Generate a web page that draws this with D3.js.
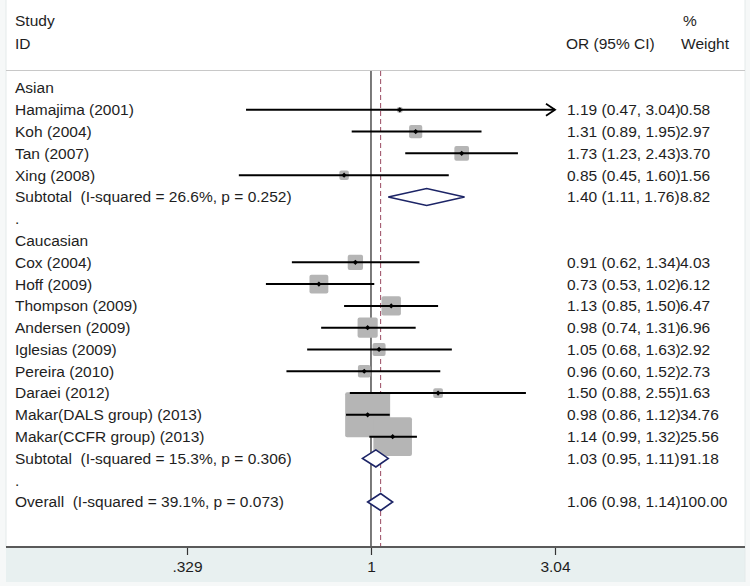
<!DOCTYPE html>
<html><head><meta charset="utf-8">
<script src="https://cdn.jsdelivr.net/npm/d3@7"></script>
<style>body{margin:0;background:#f6f8f8;}svg{display:block;}text{font-family:"Liberation Sans",Arial,sans-serif;fill:#1e1e1e;white-space:pre;}</style>
</head><body><svg id="c" width="750" height="586"></svg>
<script>
// ---- data ----
const labels = ["Asian","Hamajima (2001)","Koh (2004)","Tan (2007)","Xing (2008)",
  "Subtotal  (I-squared = 26.6%, p = 0.252)",".","Caucasian","Cox (2004)","Hoff (2009)",
  "Thompson (2009)","Andersen (2009)","Iglesias (2009)","Pereira (2010)","Daraei (2012)",
  "Makar(DALS group) (2013)","Makar(CCFR group) (2013)","Subtotal  (I-squared = 15.3%, p = 0.306)",
  ".","Overall  (I-squared = 39.1%, p = 0.073)"];
const kinds = ["group","study","study","study","study","sub","blank","group","study","study",
  "study","study","study","study","study","study","study","sub","blank","sub"];
const orVals = [null,1.19,1.31,1.73,0.85,1.40,null,null,0.91,0.73,1.13,0.98,1.05,0.96,1.50,0.98,1.14,1.03,null,1.06];
const lower  = [null,0.47,0.89,1.23,0.45,1.11,null,null,0.62,0.53,0.85,0.74,0.68,0.60,0.88,0.86,0.99,0.95,null,0.98];
const upper  = [null,3.04,1.95,2.43,1.60,1.76,null,null,1.34,1.02,1.50,1.31,1.63,1.52,2.55,1.12,1.32,1.11,null,1.14];
const weights= [null,0.58,2.97,3.70,1.56,8.82,null,null,4.03,6.12,6.47,6.96,2.92,2.73,1.63,34.76,25.56,91.18,null,100.00];
const orText = [null,"1.19 (0.47, 3.04)","1.31 (0.89, 1.95)","1.73 (1.23, 2.43)","0.85 (0.45, 1.60)","1.40 (1.11, 1.76)",null,null,
  "0.91 (0.62, 1.34)","0.73 (0.53, 1.02)","1.13 (0.85, 1.50)","0.98 (0.74, 1.31)","1.05 (0.68, 1.63)","0.96 (0.60, 1.52)",
  "1.50 (0.88, 2.55)","0.98 (0.86, 1.12)","1.14 (0.99, 1.32)","1.03 (0.95, 1.11)",null,"1.06 (0.98, 1.14)"];
const wText = [null,"0.58","2.97","3.70","1.56","8.82",null,null,"4.03","6.12","6.47","6.96","2.92","2.73","1.63","34.76","25.56","91.18",null,"100.00"];
const tickVals = [0.329, 1, 3.04];
const tickLabels = [".329","1","3.04"];
const overallOR = 1.06;

const rows = labels.map((l,i)=>({i,label:l,kind:kinds[i],or:orVals[i],lo:lower[i],hi:upper[i],w:weights[i],ort:orText[i],wt:wText[i]}));

const svg = d3.select("#c");
const x = d3.scaleLog().domain([0.329, 3.04]).range([187, 555]);
const y = d3.scaleLinear().domain([0, 19]).range([88, 502]);
const FS = "15.5px";

// backgrounds
svg.append("rect").attr("x",6).attr("y",0).attr("width",739).attr("height",547).attr("fill","#fff");
svg.append("rect").attr("x",6).attr("y",547).attr("width",739).attr("height",35).attr("fill","#e8f0f0");
svg.append("line").attr("x1",6).attr("x2",6).attr("y1",0).attr("y2",547).attr("stroke","#e4eaea");
svg.append("line").attr("x1",745).attr("x2",745).attr("y1",0).attr("y2",582).attr("stroke","#e4eaea");

// header
svg.append("text").attr("x",15).attr("y",21).attr("dy","0.35em").style("font-size",FS).text("Study");
svg.append("text").attr("x",15).attr("y",44).attr("dy","0.35em").style("font-size",FS).text("ID");
svg.append("text").attr("x",566).attr("y",44).attr("dy","0.35em").style("font-size",FS).text("OR (95% CI)");
svg.append("text").attr("x",683).attr("y",21).attr("dy","0.35em").style("font-size",FS).text("%");
svg.append("text").attr("x",729).attr("y",44).attr("dy","0.35em").attr("text-anchor","end").style("font-size",FS).text("Weight");
svg.append("line").attr("x1",6).attr("x2",745).attr("y1",70.5).attr("y2",70.5).attr("stroke","#c8c8c8");

// reference lines
svg.append("line").attr("x1",x(1)).attr("x2",x(1)).attr("y1",71).attr("y2",546).attr("stroke","#222").attr("stroke-width",1.2);
svg.append("line").attr("x1",x(overallOR)).attr("x2",x(overallOR)).attr("y1",71).attr("y2",546)
  .attr("stroke","#9a4a60").attr("stroke-width",1).attr("stroke-dasharray","5,3");

// left labels
svg.selectAll("text.lab").data(rows).join("text").attr("class","lab")
  .attr("x",15).attr("y",d=>y(d.i)).attr("dy","0.35em").style("font-size",FS).text(d=>d.label);

// study boxes
const studies = rows.filter(d=>d.kind==="study");
const side = w => 7.63*Math.sqrt(w);
svg.selectAll("rect.box").data(studies).join("rect").attr("class","box")
  .attr("x",d=>x(d.or)-side(d.w)/2).attr("y",d=>y(d.i)-side(d.w)/2)
  .attr("width",d=>side(d.w)).attr("height",d=>side(d.w)).attr("rx",2)
  .attr("fill","#b5b5b5");
// CI lines
const [dmin,dmax] = x.domain();
svg.selectAll("line.ci").data(studies).join("line").attr("class","ci")
  .attr("x1",d=>x(Math.max(d.lo,dmin))).attr("x2",d=>x(Math.min(d.hi,dmax)))
  .attr("y1",d=>y(d.i)).attr("y2",d=>y(d.i)).attr("stroke","#000").attr("stroke-width",2);
// arrows where CI reaches axis limit
svg.selectAll("path.arr").data(studies.filter(d=>d.hi>=dmax)).join("path").attr("class","arr")
  .attr("d",d=>{const xe=x(dmax),yy=y(d.i);return `M${xe-9},${yy-6}L${xe},${yy}L${xe-9},${yy+6}`;})
  .attr("fill","none").attr("stroke","#000").attr("stroke-width",1.8);
// centre points
svg.selectAll("path.pt").data(studies).join("path").attr("class","pt")
  .attr("d",d=>{const cx=x(d.or),cy=y(d.i),r=2.6;return `M${cx-r},${cy}L${cx},${cy-r}L${cx+r},${cy}L${cx},${cy+r}Z`;})
  .attr("fill","#000");

// diamonds
svg.selectAll("path.dia").data(rows.filter(d=>d.kind==="sub")).join("path").attr("class","dia")
  .attr("d",d=>{const yy=y(d.i),h=8.5;return `M${x(d.lo)},${yy}L${x(d.or)},${yy-h}L${x(d.hi)},${yy}L${x(d.or)},${yy+h}Z`;})
  .attr("fill","#fff").attr("stroke","#1c2466").attr("stroke-width",1.6);

// right text
const withVals = rows.filter(d=>d.ort);
svg.selectAll("text.ort").data(withVals).join("text").attr("class","ort")
  .attr("x",567).attr("y",d=>y(d.i)).attr("dy","0.35em").style("font-size",FS).text(d=>d.ort);
svg.selectAll("text.wt").data(withVals).join("text").attr("class","wt")
  .attr("x",680).attr("y",d=>y(d.i)).attr("dy","0.35em").style("font-size",FS).text(d=>d.wt);

// axis
const ax = svg.append("g").attr("transform","translate(0,547)")
  .call(d3.axisBottom(x).tickValues(tickVals).tickFormat((d,i)=>tickLabels[i]).tickSize(8).tickPadding(6));
ax.select(".domain").remove();
ax.selectAll(".tick line").attr("stroke","#333").attr("stroke-width",1.2);
ax.selectAll(".tick text").style("font-size",FS).style("font-family","'Liberation Sans',Arial,sans-serif").attr("fill","#1e1e1e");
svg.append("line").attr("x1",6).attr("x2",745).attr("y1",547).attr("y2",547).attr("stroke","#5a5a5a").attr("stroke-width",2.2);
</script></body></html>
